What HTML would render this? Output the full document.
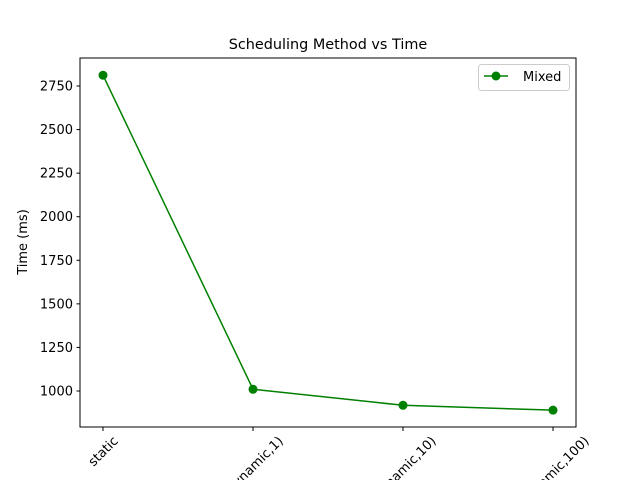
<!DOCTYPE html>
<html><head><meta charset="utf-8"><style>
html,body{margin:0;background:#fff;width:640px;height:480px;overflow:hidden}
svg{display:block;font-family:"DejaVu Sans","Liberation Sans",sans-serif;overflow:hidden}
</style></head><body>
<svg id="c" width="640" height="480" viewBox="0 0 640 480">
<rect width="640" height="480" fill="#fff"/>
<text x="328" y="49" text-anchor="middle" font-size="14.4">Scheduling Method vs Time</text>
<text transform="translate(27,242) rotate(-90)" text-anchor="middle" font-size="13">Time (ms)</text>
<g id="plot"></g>
<rect x="80" y="58" width="496" height="369" fill="none" stroke="#000" stroke-width="1"/>
<g>
<rect x="478.5" y="64.5" width="91" height="26" rx="3" fill="#fff" stroke="#ccc"/>
<line x1="484" y1="76" x2="508" y2="76" stroke="#008000" stroke-width="1.5"/>
<circle cx="496" cy="76" r="4.5" fill="#008000"/>
<text x="523" y="81" font-size="13">Mixed</text>
</g>
</svg>
<script>
const categories=["static","(dynamic,1)","(dynamic,10)","(dynamic,100)"];
const times=[2812,1010,918,890];
const yTicks=[1000,1250,1500,1750,2000,2250,2500,2750];
const NS="http://www.w3.org/2000/svg";
const g=document.getElementById('plot');
function xs(i){return 103+i*150;}
function ys(v){return 391-(v-1000)*(305/1750);}
function mk(t,a){const e=document.createElementNS(NS,t);for(const k in a)e.setAttribute(k,a[k]);g.appendChild(e);return e;}
yTicks.forEach(v=>{const y=ys(v);
 const l=mk('line',{x1:76.5,x2:80,y1:y,y2:y,stroke:'#000'});
 
 
 const t=mk('text',{x:73,y:y+4.5,'text-anchor':'end','font-size':13});t.textContent=v;
 
 
});
categories.forEach((c,i)=>{const x=xs(i);
 const l=mk('line',{x1:x,x2:x,y1:427,y2:431,stroke:'#000'});
 
 
 const t=mk('text',{x:0,y:0,'text-anchor':'middle','font-size':13});t.textContent=c;
 
 
 const L=t.getComputedTextLength(), h=10;
 const bh=(L+h)*0.707;
 t.setAttribute('transform','translate('+x+','+(435+bh/2)+') rotate(-45) translate(0,4.5)');
});
const pts=times.map((v,i)=>xs(i)+','+ys(v)).join(' ');
const pl=mk('polyline',{points:pts,fill:'none',stroke:'#008000','stroke-width':1.5});


times.forEach((v,i)=>{const c=mk('circle',{cx:xs(i),cy:ys(v),r:4.5,fill:'#008000'});
 
 
});
</script>
</body></html>
